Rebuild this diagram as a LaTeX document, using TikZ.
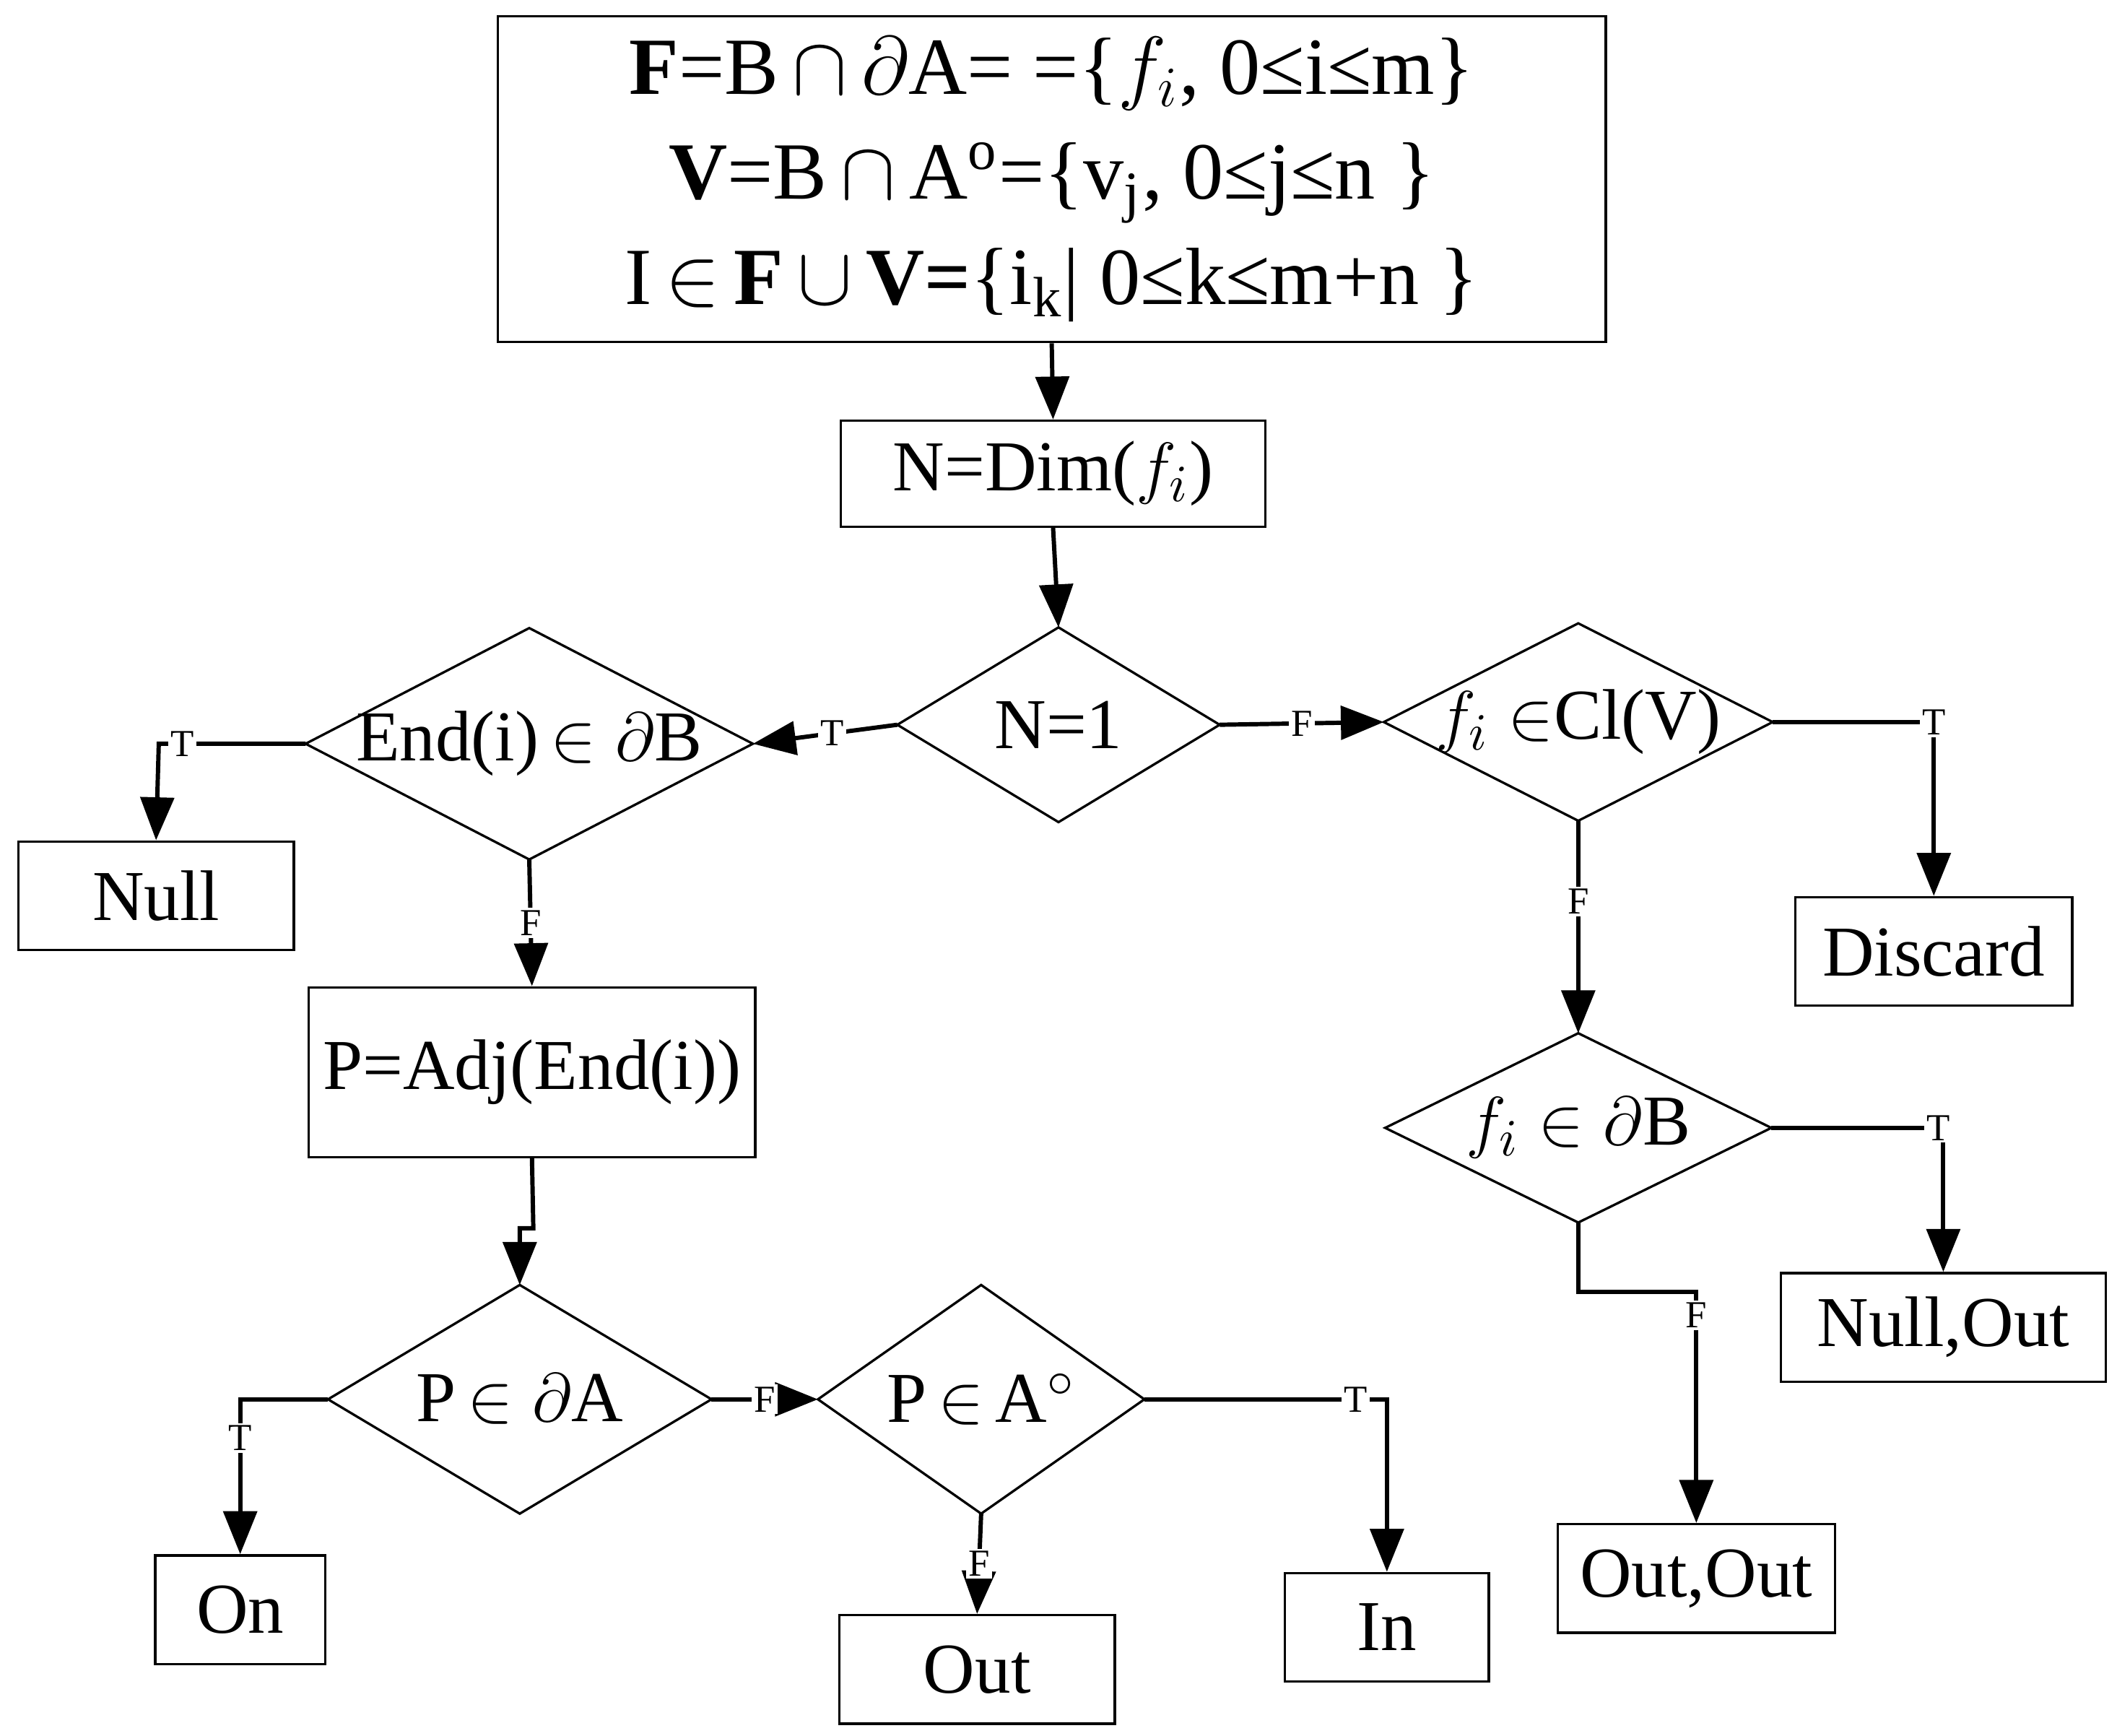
\documentclass[tikz,border=0pt]{standalone}
\usepackage{fontspec}
\setmainfont{Liberation Serif}
\usetikzlibrary{positioning,arrows.meta,shapes.geometric}

\tikzset{
  box/.style={draw,line width=0.5pt,inner sep=0pt,font=\fontsize{15}{18}\selectfont},
  test/.style={inner sep=0pt,font=\fontsize{15}{18}\selectfont},
  flow/.style={line width=0.9pt,-{Triangle[length=9pt,width=7pt]}},
  tf/.style={fill=white,inner sep=0.5pt,font=\fontsize{8}{9}\selectfont}
}

\begin{document}
\begin{tikzpicture}[x=0.01cm,y=-0.01cm]
      \useasboundingbox (0,0) rectangle (1560,1279);
      % boxes
      \node[box,minimum width=8.16cm,minimum height=2.4cm,align=center] (sets) at (775,132)
        {\fontsize{17}{26}\selectfont\textbf{F}=B$\,\cap\,\partial$A= =\{$f_i$, 0≤i≤m\}\\[4pt]
         \fontsize{17}{26}\selectfont\textbf{V}=B$\,\cap\,$A$^{\mathrm o}$=\{v$_{\mathrm j}$, 0≤j≤n \}\\[4pt]
         \fontsize{17}{26}\selectfont I$\,\in\,$\textbf{F}$\,\cup\,$\textbf{V=}\{i$_{\mathrm k}$| 0≤k≤m+n \}};
      \node[box,minimum width=3.13cm,minimum height=0.78cm] (dim) at (776,349) {N=Dim($f_i$)};
      \node[box,minimum width=2.03cm,minimum height=0.8cm] (null1) at (115,660) {Null};
      \node[box,minimum width=3.29cm,minimum height=1.25cm] (adj) at (392,790) {P=Adj(End(i))};
      \node[box,minimum width=1.25cm,minimum height=0.8cm] (on) at (177,1186) {On};
      \node[box,minimum width=2.03cm,minimum height=0.8cm] (out) at (720,1230) {Out};
      \node[box,minimum width=1.5cm,minimum height=0.8cm] (in) at (1022,1199) {In};
      \node[box,minimum width=2.04cm,minimum height=0.8cm] (discard) at (1425,701) {Discard};
      \node[box,minimum width=2.39cm,minimum height=0.8cm] (nullout) at (1432,978) {Null,Out};
      \node[box,minimum width=2.04cm,minimum height=0.8cm] (outout) at (1250,1163) {Out,Out};
      % tests
      \node[test,minimum width=2.36cm,minimum height=1.42cm] (n1) at (780,534) {N=1};
      \node[test,minimum width=3.28cm,minimum height=1.69cm] (end) at (390,548) {End(i)$\,\in\partial$B};
      \node[test,minimum width=2.81cm,minimum height=1.67cm] (pa) at (383,1031) {P$\,\in\partial$A};
      \node[test,minimum width=2.39cm,minimum height=1.67cm] (pin) at (723,1031) {P$\,\in\,$A$^\circ$};
      \node[test,minimum width=2.85cm,minimum height=1.44cm] (cl) at (1163,532) {$f_i\in$Cl(V)};
      \node[test,minimum width=2.83cm,minimum height=1.38cm] (fb) at (1163,831) {$f_i\in\partial$B};
      \foreach \d in {n1,end,pa,pin,cl,fb}
        \draw[line width=0.5pt] (\d.north) -- (\d.east) -- (\d.south) -- (\d.west) -- cycle;
      % bends
      \coordinate (c1) at (117,548);
      \coordinate (c2) at (393,905);
      \coordinate (c3) at (383,905);
      \coordinate (c4) at (177,1031);
      \coordinate (c5) at (1022,1031);
      \coordinate (c6) at (1425,532);
      \coordinate (c7) at (1432,831);
      \coordinate (c8) at (1163,952);
      \coordinate (c9) at (1250,952);
      % connectors
      \draw[flow] (sets.south) -- (dim.north);
      \draw[flow] (dim.south) -- (n1.north);
      \draw[flow] (n1.west) -- (end.east) node[tf,pos=0.45] {T};
      \draw[flow] (n1.east) -- (cl.west) node[tf,pos=0.5] {F};
      \draw[flow] (end.west) -- (c1) node[tf,pos=0.84] {T} -- (null1.north);
      \draw[flow] (end.south) -- (adj.north) node[tf,pos=0.5] {F};
      \draw[flow] (adj.south) -- (c2) -- (c3) -- (pa.north);
      \draw[flow] (pa.west) -- (c4) -- (on.north) node[tf,pos=0.25] {T};
      \draw[flow] (pa.east) -- (pin.west) node[tf,pos=0.5] {F};
      \draw[flow] (pin.south) -- (out.north) node[tf,pos=0.5] {F};
      \draw[flow] (pin.east) -- (c5) node[tf,pos=0.87] {T} -- (in.north);
      \draw[flow] (cl.east) -- (c6) node[tf,pos=1] {T} -- (discard.north);
      \draw[flow] (cl.south) -- (fb.north) node[tf,pos=0.38] {F};
      \draw[flow] (fb.east) -- (c7) node[tf,pos=0.97] {T} -- (nullout.north);
      \draw[flow] (fb.south) -- (c8) -- (c9) -- (outout.north) node[tf,pos=0.1] {F};
\end{tikzpicture}
\end{document}
